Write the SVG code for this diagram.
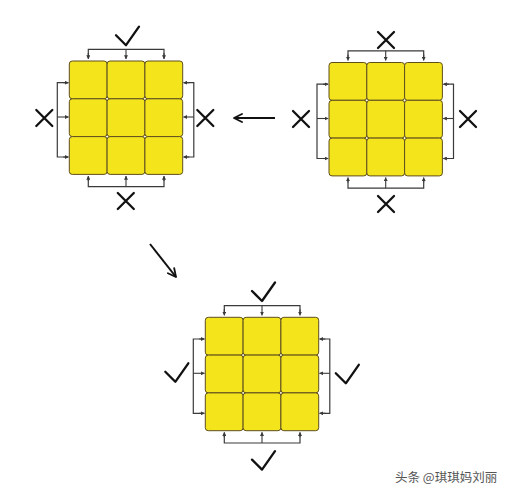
<svg xmlns="http://www.w3.org/2000/svg" width="512" height="495" viewBox="0 0 512 495">
<defs>
<style>
.cell{fill:#F3E41C;stroke:#5E4E1E;stroke-width:1}
.br{fill:none;stroke:#3a3a3a;stroke-width:1.2}
.ar{fill:none;stroke:#3a3a3a;stroke-width:1.1;marker-end:url(#ah)}
.mk{fill:none;stroke:#111;stroke-width:2.3;stroke-linecap:round;stroke-linejoin:round}
.wm{font-family:"Noto Sans CJK SC","Liberation Sans",sans-serif;font-size:12.5px;fill:#555}
</style>
<marker id="ah" viewBox="0 0 6 6" refX="5.5" refY="3" markerWidth="4" markerHeight="4" orient="auto" markerUnits="userSpaceOnUse">
<path d="M0,0 L6,3 L0,6 z" fill="#3a3a3a"/>
</marker>
<marker id="bigah" viewBox="0 0 10 10" refX="9" refY="5" markerWidth="10" markerHeight="10" orient="auto" markerUnits="userSpaceOnUse">
<path d="M1,1 L9,5 L1,9" fill="none" stroke="#111" stroke-width="1.8" stroke-linecap="round" stroke-linejoin="round"/>
</marker>
<g id="grid">
<rect class="cell" x="0" y="0" width="37.8" height="37.8" rx="3"/>
<rect class="cell" x="37.8" y="0" width="37.8" height="37.8" rx="3"/>
<rect class="cell" x="75.6" y="0" width="37.8" height="37.8" rx="3"/>
<rect class="cell" x="0" y="37.8" width="37.8" height="37.8" rx="3"/>
<rect class="cell" x="37.8" y="37.8" width="37.8" height="37.8" rx="3"/>
<rect class="cell" x="75.6" y="37.8" width="37.8" height="37.8" rx="3"/>
<rect class="cell" x="0" y="75.6" width="37.8" height="37.8" rx="3"/>
<rect class="cell" x="37.8" y="75.6" width="37.8" height="37.8" rx="3"/>
<rect class="cell" x="75.6" y="75.6" width="37.8" height="37.8" rx="3"/>
<path class="br" d="M19,-3.5 V-11.7 H94.7 V-3.5"/>
<path class="ar" d="M19,-8 V-2"/>
<path class="ar" d="M56.7,-11.7 V-2"/>
<path class="ar" d="M94.7,-8 V-2"/>
<path class="br" d="M19,116.5 V125.7 H94.7 V116.5"/>
<path class="ar" d="M19,120 V115"/>
<path class="ar" d="M56.7,125.7 V115"/>
<path class="ar" d="M94.7,120 V115"/>
<path class="br" d="M-1.5,21.7 H-12 V96 H-1.5"/>
<path class="ar" d="M-6,21.7 H-0.8"/>
<path class="ar" d="M-12,56 H-0.8"/>
<path class="ar" d="M-6,96 H-0.8"/>
<path class="br" d="M115,21.7 H124.5 V96 H115"/>
<path class="ar" d="M120,21.7 H114.2"/>
<path class="ar" d="M124.5,56 H114.2"/>
<path class="ar" d="M120,96 H114.2"/>
</g>
<path id="chk" d="M-10.5,-1 L-0.5,9 L12.5,-9.5"/>
<path id="xx" d="M-8,-8 L8,8 M8,-8 L-8,8"/>
</defs>

<g id="cube1" transform="translate(69.3,61)">
<use href="#grid"/>
<use class="mk" href="#chk" x="57.2" y="-24.8"/>
<use class="mk" href="#xx" x="-25" y="57"/>
<use class="mk" href="#xx" x="136" y="57"/>
<use class="mk" href="#xx" x="56.5" y="140"/>
</g>

<g id="cube2" transform="translate(329,62.5)">
<use href="#grid"/>
<use class="mk" href="#xx" x="57" y="-22.5"/>
<use class="mk" href="#xx" x="-28" y="56.5"/>
<use class="mk" href="#xx" x="139" y="56.5"/>
<use class="mk" href="#xx" x="57" y="141.5"/>
</g>

<g id="cube3" transform="translate(205.3,317.3)">
<use href="#grid"/>
<use class="mk" href="#chk" x="57.2" y="-25.3"/>
<use class="mk" href="#chk" x="-29.5" y="55.5"/>
<use class="mk" href="#chk" x="141" y="57"/>
<use class="mk" href="#chk" x="57.2" y="143.3"/>
</g>

<g id="connectors">
<path d="M275,118 H234" fill="none" stroke="#111" stroke-width="2" marker-end="url(#bigah)"/>
<path d="M150,244 L176,277" fill="none" stroke="#111" stroke-width="2" marker-end="url(#bigah)"/>
</g>

<text class="wm" x="395" y="482">头条 @琪琪妈刘丽</text>
</svg>
